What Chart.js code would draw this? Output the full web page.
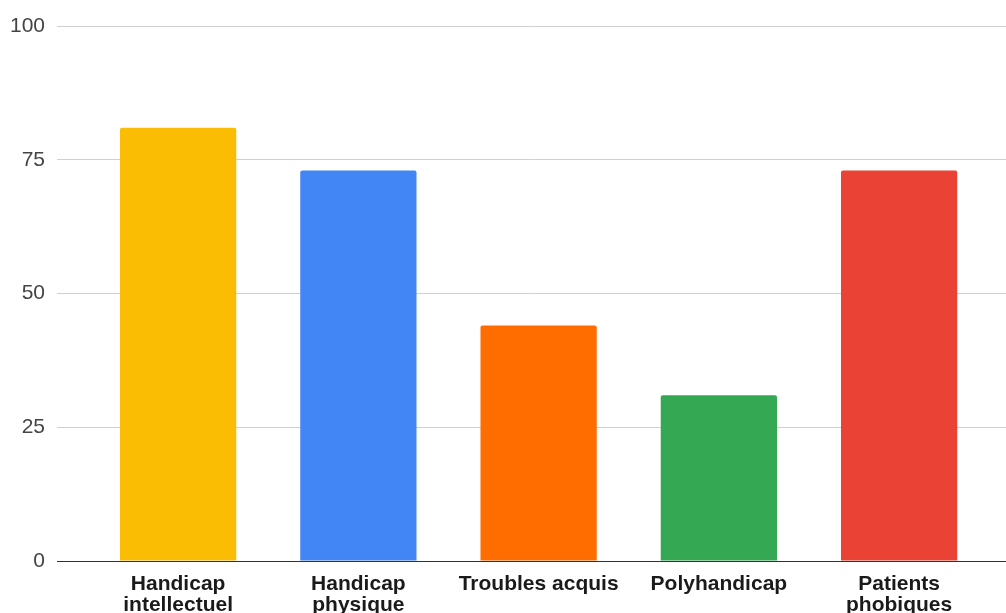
<!DOCTYPE html>
<html>
<head>
<meta charset="utf-8">
<style>
  html, body { margin: 0; padding: 0; background: #fff; overflow: hidden; }
  #wrap { position: relative; width: 1006px; height: 613px; }
</style>
<script src="https://cdn.jsdelivr.net/npm/chart.js@4/dist/chart.umd.min.js"></script>
</head>
<body>
<div id="wrap"><canvas id="chart"></canvas></div>
<script>
// Category labels (multi-line where the label wraps)
const categories = [
  ['Handicap', 'intellectuel'],
  ['Handicap', 'physique'],
  'Troubles acquis',
  'Polyhandicap',
  ['Patients', 'phobiques']
];
const values = [81, 73, 44, 31, 73];
const barColors = ['#FBBC04', '#4285F4', '#FF6D01', '#34A853', '#EA4335'];
const yTicks = [0, 25, 50, 75, 100];

// Horizontal range of the category axis (index units)
const xMin = -0.672;
const xMax = 4.593;

const points = values.map((v, i) => ({ x: i, y: v }));

new Chart(document.getElementById('chart'), {
  type: 'bar',
  data: {
    datasets: [{
      data: points,
      backgroundColor: barColors,
      borderWidth: 0,
      borderRadius: { topLeft: 2, topRight: 2, bottomLeft: 0, bottomRight: 0 },
      borderSkipped: false,
      categoryPercentage: 1,
      barPercentage: 0.645
    }]
  },
  options: {
    responsive: true,
    maintainAspectRatio: false,
    animation: false,
    layout: { padding: { top: 26, right: 0, left: 0, bottom: 0 } },
    plugins: { legend: { display: false }, tooltip: { enabled: false } },
    scales: {
      x: {
        type: 'linear',
        offset: false,
        min: xMin,
        max: xMax,
        grid: { display: false, offset: false },
        border: { display: true, color: '#333', width: 1 },
        afterBuildTicks: (scale) => {
          scale.ticks = categories.map((_, i) => ({ value: i }));
        },
        afterFit: (scale) => { scale.height = 52; },
        ticks: {
          autoSkip: false,
          maxRotation: 0,
          minRotation: 0,
          padding: 5,
          color: '#1a1a1a',
          font: { family: '"Liberation Sans", Arial, sans-serif', size: 21, weight: 'bold', lineHeight: '21px' },
          callback: (value) => categories[value]
        }
      },
      y: {
        min: 0,
        max: 100,
        afterBuildTicks: (scale) => {
          scale.ticks = yTicks.map(v => ({ value: v }));
        },
        afterFit: (scale) => { scale.width = 57; },
        grid: { color: '#d0d0d0', lineWidth: 1, drawTicks: false },
        border: { display: false },
        ticks: {
          padding: 12,
          color: '#444',
          font: { family: '"Liberation Sans", Arial, sans-serif', size: 21 }
        }
      }
    }
  }
});
</script>
</body>
</html>
